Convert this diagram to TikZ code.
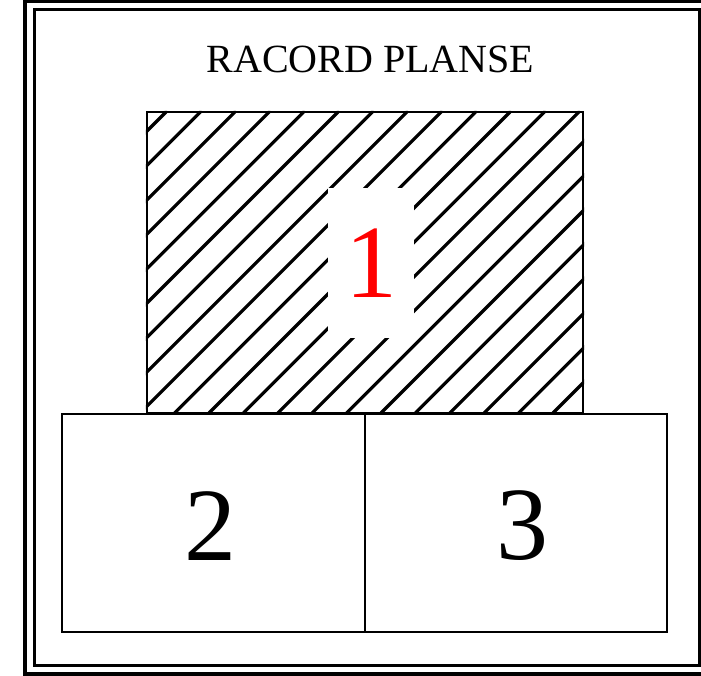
\documentclass[tikz,border=0pt]{standalone}
\usepackage{xcolor}
\usepackage{fontspec}
\setmainfont{Liberation Serif}
\usepackage{tikz}

\begin{document}
\begin{tikzpicture}[
    x=1pt, y=-1pt,
    frameline/.style={draw=black, line width=3.4pt},
    zone/.style={rectangle, draw=black, line width=2.4pt, inner sep=0pt},
    hatch/.style={draw=black, line width=3.2pt, line cap=round},
    bignum/.style={font=\fontsize{104}{110}\selectfont, inner sep=0pt},
    title/.style={font=\fontsize{40}{46}\selectfont}
]
    \useasboundingbox (0,0) rectangle (701,676);

    % Frame
    \draw[frameline] (25,1) rectangle (708,674);
    \draw[frameline, line width=3pt] (34,10) rectangle (699,665);

    % Title
    \node[title] (titre) at (370.5,59) {RACORD PLANSE};

    % Zones
    \node[zone, minimum width=436, minimum height=301] (zone1) at (365,262.5) {};
    \node[zone, minimum width=303, minimum height=218] (zone2) at (213.5,523) {};
    \node[zone, minimum width=302, minimum height=218] (zone3) at (516,523) {};

    % Hatching of zone 1
    \begin{scope}
        \clip (zone1.south west) rectangle (zone1.north east);
        \foreach \k in {0,...,20}
            \draw[hatch] ({278+34.4*\k-413},413) -- ({278+34.4*\k-112},112);
    \end{scope}

    % Numbers
    \node[bignum, fill=white, text=red, minimum width=86, minimum height=150] (num1) at (371,263) {1};
    \node[bignum] (num2) at (210,526) {2};
    \node[bignum] (num3) at (522,526) {3};
\end{tikzpicture}
\end{document}
